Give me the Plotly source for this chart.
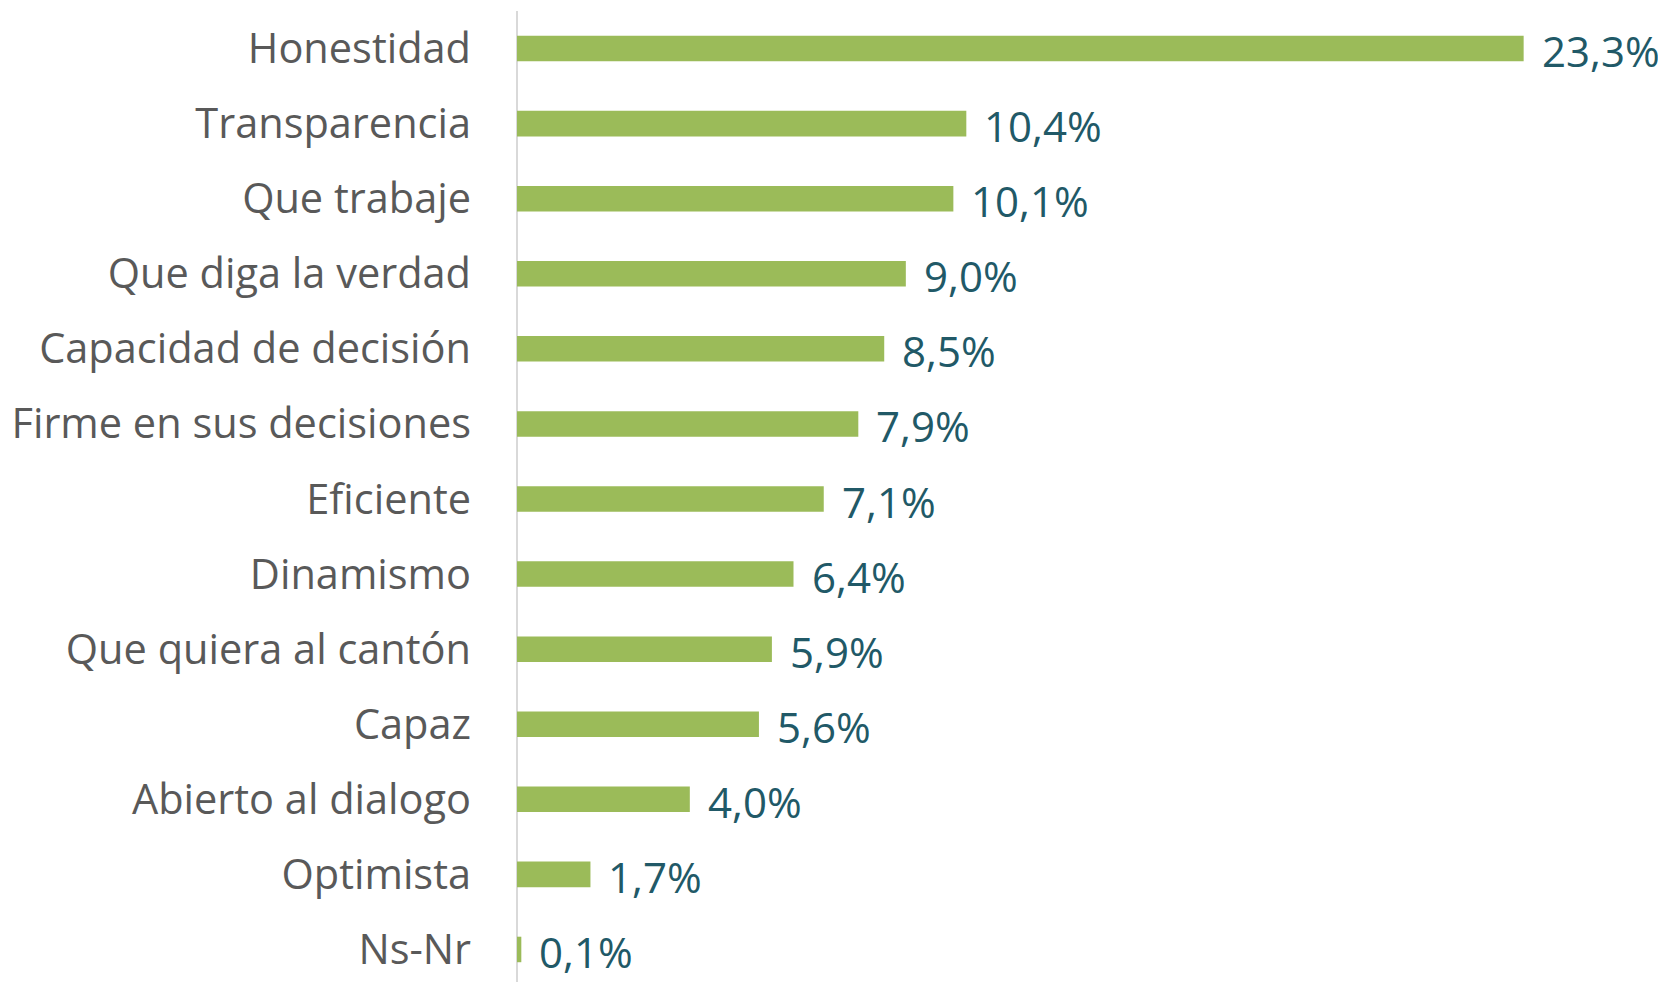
import plotly.graph_objects as go

categories = ["Honestidad", "Transparencia", "Que trabaje", "Que diga la verdad",
              "Capacidad de decisión", "Firme en sus decisiones", "Eficiente",
              "Dinamismo", "Que quiera al cantón", "Capaz", "Abierto al dialogo",
              "Optimista", "Ns-Nr"]
values = [23.3, 10.4, 10.1, 9.0, 8.5, 7.9, 7.1, 6.4, 5.9, 5.6, 4.0, 1.7, 0.1]
labels = [f"{v:.1f}%".replace(".", ",") for v in values]

fig = go.Figure()
fig.add_trace(go.Bar(
    y=categories, x=values, orientation="h",
    marker=dict(color="#9BBB59", line=dict(width=0)),
    hoverinfo="skip",
))

for c, v, t in zip(categories, values, labels):
    fig.add_annotation(x=v, y=c, text=t, showarrow=False, xanchor="left",
                       xshift=16, yshift=-2,
                       font=dict(family="Open Sans", size=42, color="#215967"))

fig.update_layout(
    width=1666, height=982,
    margin=dict(l=509, r=0, t=3, b=3),
    plot_bgcolor="white", paper_bgcolor="white",
    bargap=0.66, showlegend=False,
)
fig.update_yaxes(
    autorange="reversed", showgrid=False, zeroline=False,
    showline=False, ticks="", ticklabelstandoff=45,
    tickfont=dict(family="Open Sans", size=41.5, color="#595959"),
)
fig.update_xaxes(
    range=[0, 26.78], showgrid=False, zeroline=True, zerolinecolor="#D9D9D9",
    zerolinewidth=2, showticklabels=False, showline=False, ticks="",
)
fig.write_html("out.html")
